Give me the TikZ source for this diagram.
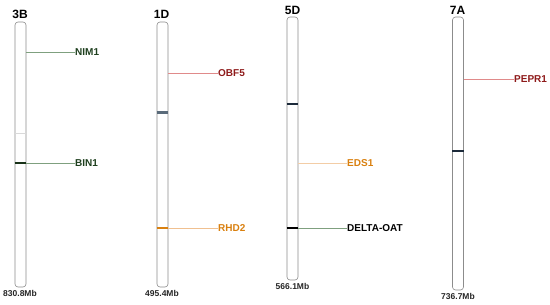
\documentclass[tikz,border=0pt]{standalone}
\usepackage{fontspec}
\setmainfont{Liberation Sans}
\definecolor{chrline}{HTML}{8C8C8C}
\definecolor{dgreen}{HTML}{1E3F1E}
\definecolor{lgreen}{HTML}{7FA07F}
\definecolor{dred}{HTML}{8E1A1A}
\definecolor{lred}{HTML}{E08A8A}
\definecolor{orng}{HTML}{D9800F}
\definecolor{lorng}{HTML}{F0C090}
\definecolor{navy}{HTML}{1C2A3A}
\definecolor{slate}{HTML}{5A6B7A}
\begin{document}
\begin{tikzpicture}[x=1pt,y=-1pt,
  chrom/.style={draw=chrline, line width=0.6pt, fill=white, rounded corners=3pt, minimum width=11pt, inner sep=0pt},
  chrname/.style={font=\bfseries\fontsize{12}{12}\selectfont, inner sep=0pt},
  sizelab/.style={font=\bfseries\fontsize{8.5}{9}\selectfont, text=black!85, inner sep=0pt},
  gene/.style={font=\bfseries\fontsize{10}{10}\selectfont, anchor=west, inner sep=0pt},
  conn/.style={line width=0.5pt}]
\useasboundingbox (0,0) rectangle (550,305);
% chromosomes
\node[chrom, minimum height=265pt] (c3B) at (20.5,154.5) {};
\node[chrom, minimum height=265pt] (c1D) at (162.5,154.5) {};
\node[chrom, minimum height=263pt] (c5D) at (292.5,148.5) {};
\node[chrom, minimum height=273pt] (c7A) at (458,153.5) {};
% names
\node[chrname] (n3B) at (20,14.5) {3B};
\node[chrname] (n1D) at (161.5,14) {1D};
\node[chrname] (n5D) at (292.5,10) {5D};
\node[chrname] (n7A) at (457.5,10) {7A};
% sizes
\node[sizelab] (s3B) at (20,293) {830.8Mb};
\node[sizelab] (s1D) at (162,293.5) {495.4Mb};
\node[sizelab] (s5D) at (292.5,286.5) {566.1Mb};
\node[sizelab] (s7A) at (458,296.5) {736.7Mb};
% bands
\coordinate (b1) at (0,133); \coordinate (b2) at (0,163);
\draw[black!15, line width=0.5pt] (c3B.west |- b1) -- (c3B.east |- b1);
\draw[dgreen!80!black, line width=1.4pt] (c3B.west |- b2) -- (c3B.east |- b2);
\coordinate (b3) at (0,113); \coordinate (b4) at (0,228);
\draw[slate, line width=3pt] (c1D.west |- b3) -- (c1D.east |- b3);
\draw[orng, line width=1.2pt] (c1D.west |- b4) -- (c1D.east |- b4);
\coordinate (b5) at (0,104); \coordinate (b6) at (0,228);
\draw[navy, line width=1.2pt] (c5D.west |- b5) -- (c5D.east |- b5);
\draw[black, line width=1.4pt] (c5D.west |- b6) -- (c5D.east |- b6);
\coordinate (b7) at (0,151);
\draw[navy, line width=1.2pt] (c7A.west |- b7) -- (c7A.east |- b7);
% genes
\node[gene, text=dgreen] (nim) at (75,52) {NIM1};
\node[gene, text=dgreen] (bin) at (75,163) {BIN1};
\node[gene, text=dred] (obf) at (218,73) {OBF5};
\node[gene, text=orng] (rhd) at (218,228) {RHD2};
\node[gene, text=orng] (eds) at (347,163) {EDS1};
\node[gene, text=black] (delta) at (347,228) {DELTA-OAT};
\node[gene, text=dred] (pepr) at (514,79) {PEPR1};
% connectors
\draw[conn, lgreen] (c3B.east |- nim.west) -- (nim.west);
\draw[conn, lgreen] (c3B.east |- bin.west) -- (bin.west);
\draw[conn, lred] (c1D.east |- obf.west) -- (obf.west);
\draw[conn, lorng] (c1D.east |- rhd.west) -- (rhd.west);
\draw[conn, lorng!80] (c5D.east |- eds.west) -- (eds.west);
\draw[conn, lgreen] (c5D.east |- delta.west) -- (delta.west);
\draw[conn, lred] (c7A.east |- pepr.west) -- (pepr.west);
\end{tikzpicture}
\end{document}
